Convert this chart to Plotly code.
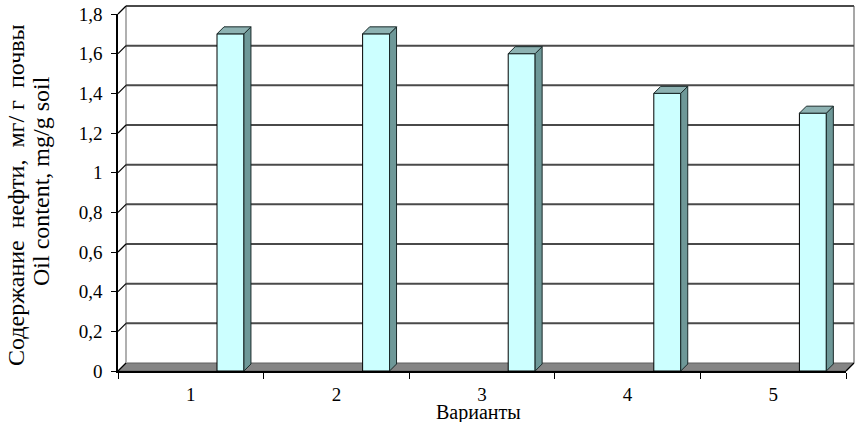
import plotly.graph_objects as go

# data
variants = ['1', '2', '3', '4', '5']
oil_content = [1.7, 1.7, 1.6, 1.4, 1.3]
y_ticks = [0, 0.2, 0.4, 0.6, 0.8, 1.0, 1.2, 1.4, 1.6, 1.8]

W, H = 863, 422
L, R, T, B = 118, 17, 14, 51
plot_w = W - L - R
plot_h = H - T - B
y_max = 1.8

# fake 3d depth (pixels)
wall_dx, wall_dy = 8, 8
bar_dx, bar_dy = 7, 7
px = wall_dx / plot_w
py = wall_dy / plot_h

bar_offset = 0.18
bar_width = 0.185
cat_px = plot_w / len(variants)
bdx = bar_dx / cat_px
bdy = bar_dy * y_max / plot_h


def paper_x(x):
    return (x - L) / plot_w


def paper_y(y):
    return (H - B - y) / plot_h


fig = go.Figure()

fig.add_trace(go.Bar(
    x=variants,
    y=oil_content,
    width=bar_width,
    offset=bar_offset,
    marker=dict(color='#ccffff', line=dict(color='#000000', width=1)),
    showlegend=False,
    hoverinfo='skip',
))

shapes = []
grid = '#4a4a4a'

# floor
shapes.append(dict(type='path', xref='paper', yref='paper', layer='below',
                   path=f'M0,0 L1,0 L{1+px},{py} L{px},{py} Z',
                   fillcolor='#858585', line=dict(color='#606060', width=1)))
# left side wall edge
shapes.append(dict(type='line', xref='paper', yref='paper', layer='below',
                   x0=px, x1=px, y0=py, y1=1 + py,
                   line=dict(color='#b0b0b0', width=2)))
# right edge of back wall
shapes.append(dict(type='line', xref='paper', yref='paper', layer='below',
                   x0=1 + px, x1=1 + px, y0=py, y1=1 + py,
                   line=dict(color='#8a8a8a', width=1.5)))
# back wall gridlines + connectors
for v in y_ticks:
    yp = v / y_max
    if v > 0:
        shapes.append(dict(type='line', xref='paper', yref='paper', layer='below',
                           x0=px, x1=1 + px, y0=yp + py, y1=yp + py,
                           line=dict(color=grid, width=2)))
    shapes.append(dict(type='line', xref='paper', yref='paper', layer='below',
                       x0=0, x1=px, y0=yp, y1=yp + py,
                       line=dict(color='#000000', width=1.2)))
# right end of floor
shapes.append(dict(type='line', xref='paper', yref='paper',
                   x0=1, x1=1 + px, y0=0, y1=py,
                   line=dict(color='#000000', width=1.2)))

# side and top faces of bars
for i, v in enumerate(oil_content):
    x1 = i + bar_offset + bar_width
    x0 = i + bar_offset
    shapes.append(dict(type='path', xref='x', yref='y', layer='above',
                       path=f'M{x1},0 L{x1+bdx},{bdy} L{x1+bdx},{v+bdy} L{x1},{v} Z',
                       fillcolor='#6e9898', line=dict(color='#1a2a2a', width=1)))
    shapes.append(dict(type='path', xref='x', yref='y', layer='above',
                       path=f'M{x0},{v} L{x1},{v} L{x1+bdx},{v+bdy} L{x0+bdx},{v+bdy} Z',
                       fillcolor='#8db2b2', line=dict(color='#1a2a2a', width=1)))

font = 'Liberation Serif, Times New Roman, serif'
sp = '\u00a0'

fig.update_layout(
    width=W, height=H,
    margin=dict(l=L, r=R, t=T, b=B),
    paper_bgcolor='white',
    plot_bgcolor='white',
    separators=', ',
    font=dict(family=font, size=19, color='black'),
    shapes=shapes,
    xaxis=dict(
        type='category',
        range=[-0.5, len(variants) - 0.5],
        tickson='boundaries',
        ticks='outside', ticklen=6, tickcolor='black', tickwidth=1.2,
        ticklabelstandoff=5,
        showline=True, linecolor='black', linewidth=1.5,
        showgrid=False, automargin=False,
        tickfont=dict(size=19),
    ),
    yaxis=dict(
        range=[0, y_max],
        tickvals=y_ticks,
        ticks='outside', ticklen=5, tickcolor='black', tickwidth=1.2,
        ticklabelstandoff=5,
        showline=True, linecolor='black', linewidth=1.5,
        showgrid=False, zeroline=False, automargin=False,
        tickfont=dict(size=19),
    ),
    annotations=[
        dict(text='Варианты', xref='paper', yref='paper',
             x=paper_x(478), y=paper_y(412), xanchor='center', yanchor='middle',
             showarrow=False, font=dict(size=20)),
        dict(text=f'Содержание{sp}{sp}нефти,{sp}{sp}мг/ г{sp}{sp}почвы',
             xref='paper', yref='paper',
             x=paper_x(16), y=paper_y(195), xanchor='center', yanchor='middle',
             textangle=-90, showarrow=False, font=dict(size=24)),
        dict(text='Oil content, mg/g soil', xref='paper', yref='paper',
             x=paper_x(41), y=paper_y(181), xanchor='center', yanchor='middle',
             textangle=-90, showarrow=False, font=dict(size=24)),
    ],
)

# drop the default 8px page margin so the figure sits at the window's corner
fig.write_html("out.html", config={'displayModeBar': False},
               post_script="document.body.style.margin='0';")
